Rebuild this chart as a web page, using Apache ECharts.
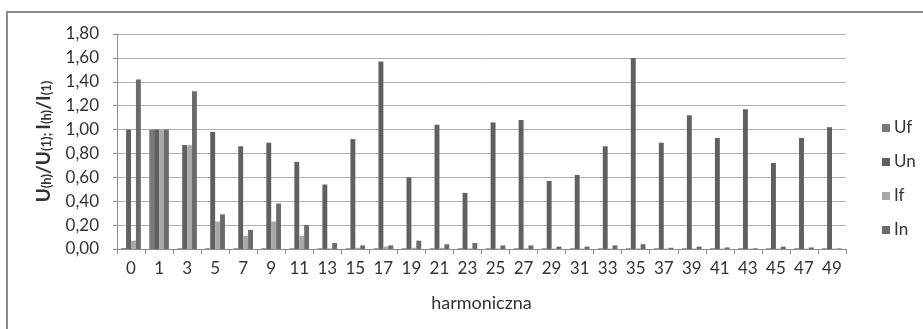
<!DOCTYPE html>
<html>
<head>
<meta charset="utf-8">
<script src="https://cdn.jsdelivr.net/npm/echarts@6/dist/echarts.min.js"></script>
<style>
  html, body { margin: 0; padding: 0; background: #ffffff; }
  #chart { width: 923px; height: 329px; }
</style>
</head>
<body>
<div id="chart"></div>
<script>
// Harmonic orders on the x axis
const harmonics = ['0', '1', '3', '5', '7', '9', '11', '13', '15', '17', '19', '21', '23',
                   '25', '27', '29', '31', '33', '35', '37', '39', '41', '43', '45', '47', '49'];

// Relative harmonic content, U(h)/U(1) and I(h)/I(1)
const Uf = [0.008, 1.00, 0.006, 0.006, 0.006, 0.006, 0.006, 0.006, 0.006, 0.006, 0.006, 0.006, 0.006,
            0.006, 0.006, 0.006, 0.006, 0.006, 0.006, 0.006, 0.006, 0.006, 0.006, 0.006, 0.006, 0.006];
const Un = [1.00, 1.00, 0.87, 0.98, 0.86, 0.89, 0.73, 0.54, 0.92, 1.57, 0.60, 1.04, 0.47,
            1.06, 1.08, 0.57, 0.62, 0.86, 1.60, 0.89, 1.12, 0.93, 1.17, 0.72, 0.93, 1.02];
const If = [0.07, 1.00, 0.87, 0.23, 0.11, 0.23, 0.11, 0.005, 0.01, 0.02, 0.01, 0.01, 0.005,
            0.005, 0.005, 0.004, 0.004, 0.004, 0.005, 0.003, 0.004, 0.003, 0.003, 0.003, 0.003, 0.003];
const In = [1.42, 1.00, 1.32, 0.29, 0.16, 0.38, 0.20, 0.05, 0.03, 0.03, 0.07, 0.04, 0.05,
            0.03, 0.03, 0.02, 0.02, 0.03, 0.04, 0.01, 0.02, 0.013, 0.006, 0.02, 0.013, 0.005];

const seriesNames = ['Uf', 'Un', 'If', 'In'];
const seriesData = [Uf, Un, If, In];
const seriesColors = ['#7a7a7a', '#606060', '#a9a9a9', '#6b6b6b'];

const FONT = 'Lato, "Open Sans", sans-serif';
const TEXT = '#333333';

const chart = echarts.init(document.getElementById('chart'), null, { renderer: 'canvas' });

chart.setOption({
  animation: false,
  backgroundColor: '#ffffff',
  textStyle: { fontFamily: FONT, color: TEXT },
  graphic: [{
    type: 'rect',
    shape: { x: 7, y: 12, width: 1000, height: 500 },
    style: { fill: 'none', stroke: '#8a8a8a', lineWidth: 2 },
    silent: true
  }],
  grid: { left: 117, right: 77, top: 34, bottom: 80, containLabel: false },
  legend: {
    orient: 'vertical',
    left: 877,
    top: 114,
    itemWidth: 8,
    itemHeight: 8,
    itemGap: 16,
    icon: 'rect',
    textStyle: { fontFamily: FONT, fontSize: 17, lineHeight: 18, color: TEXT, padding: [0, 0, 0, -1] },
    data: seriesNames
  },
  xAxis: {
    type: 'category',
    data: harmonics,
    boundaryGap: true,
    name: 'harmoniczna',
    nameLocation: 'middle',
    nameGap: 45,
    nameTextStyle: { fontFamily: FONT, fontSize: 18, color: TEXT },
    axisLine: { lineStyle: { color: '#8c8c8c', width: 1 } },
    axisTick: { show: true, alignWithLabel: false, length: 5, lineStyle: { color: '#8c8c8c' } },
    axisLabel: { fontFamily: FONT, fontSize: 17, color: TEXT, margin: 11, interval: 0 },
    splitLine: { show: false }
  },
  yAxis: {
    type: 'value',
    min: 0,
    max: 1.8,
    interval: 0.2,
    name: '{m|U}{s|(h)}{m|/U}{s|(1); }{m|I}{s|(h)}{m|/I}{s|(1)}',
    nameLocation: 'middle',
    nameRotate: 90,
    nameGap: 64,
    nameTextStyle: {
      rich: {
        m: { fontFamily: FONT, fontSize: 19, fontWeight: 'bold', color: TEXT, lineHeight: 20, verticalAlign: 'bottom' },
        s: { fontFamily: FONT, fontSize: 13, fontWeight: 'bold', color: TEXT, lineHeight: 6, verticalAlign: 'bottom' }
      }
    },
    axisLine: { show: true, lineStyle: { color: '#8c8c8c', width: 1 } },
    axisTick: { show: true, length: 4, lineStyle: { color: '#8c8c8c' } },
    axisLabel: {
      fontFamily: FONT, fontSize: 17, color: TEXT, margin: 18,
      formatter: v => v.toFixed(2).replace('.', ',')
    },
    splitLine: { show: true, lineStyle: { color: '#b0b0b0', width: 1 } }
  },
  series: seriesNames.map((name, i) => ({
    name: name,
    type: 'bar',
    data: seriesData[i],
    barGap: '0%',
    barCategoryGap: '30%',
    itemStyle: { color: seriesColors[i] },
    emphasis: { disabled: true }
  }))
});
</script>
</body>
</html>
